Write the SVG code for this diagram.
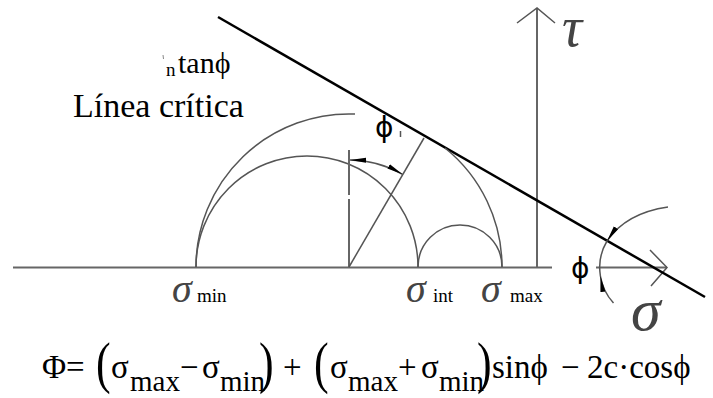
<svg xmlns="http://www.w3.org/2000/svg" width="713" height="398" viewBox="0 0 713 398">
<style>
.g{fill:none;stroke:#555;stroke-width:1.5}
.ax{fill:none;stroke:#666;stroke-width:2}
.crit{fill:none;stroke:#000;stroke-width:2.5}
.ser{font-family:"Liberation Serif","Times New Roman",serif;fill:#000}
.it{font-family:"Liberation Serif","Times New Roman",serif;font-style:italic;fill:#444}
.phi{font-family:"DejaVu Sans","Liberation Sans",sans-serif;fill:#000}
.par{font-family:"Liberation Serif","Times New Roman",serif;fill:#000;font-size:44px}
</style>
<defs>
<marker id="ah" viewBox="0 0 16 6" refX="16" refY="3" markerWidth="16" markerHeight="6" markerUnits="userSpaceOnUse" orient="auto-start-reverse">
<path d="M0,0.5 L16,3 L0,5.5 Z" fill="#000"/>
</marker>
</defs>
<rect width="713" height="398" fill="#fff"/>

<g id="connectors">
<line class="ax" x1="13" y1="267.5" x2="552" y2="267.5"/>
<line class="ax" x1="596" y1="267.5" x2="667" y2="267.5"/>
<polyline class="g" points="650,250 667,267.5 651,286"/>
<line class="ax" x1="537" y1="8" x2="537" y2="267"/>
<polyline class="g" points="517,23 537,8 555,23"/>
<line class="crit" x1="218" y1="17" x2="705" y2="297"/>
</g>

<g id="circles">
<path class="g" d="M196,267 A153,153 0 0 1 355,114.1"/>
<path class="g" d="M445,148 A153,153 0 0 1 502,267"/>
<path class="g" d="M196,267 A111,111 0 0 1 418,267"/>
<path class="g" d="M418,267 A42,42 0 0 1 502,267"/>
</g>

<g id="angle-center">
<line class="ax" x1="349" y1="150" x2="349" y2="195"/>
<line class="ax" x1="349" y1="199" x2="349" y2="267"/>
<line class="g" x1="349" y1="267" x2="424" y2="138"/>
<path class="g" d="M350,160 A107,107 0 0 1 402.5,174.3" marker-start="url(#ah)" marker-end="url(#ah)" stroke="#333"/>
<line class="g" x1="400.5" y1="131" x2="400.5" y2="137" stroke-width="1"/>
<text class="phi" x="375" y="137" font-size="28">ϕ</text>
</g>

<g id="angle-right">
<path class="g" d="M668,207 Q626,213 607,241" marker-end="url(#ah)"/>
<path class="g" d="M613.5,303 A52,52 0 0 1 600.4,276" marker-end="url(#ah)"/>
<path class="g" d="M600.4,276 A52,52 0 0 1 607,241"/>
<text class="phi" x="571" y="278" font-size="28">ϕ</text>
</g>

<g id="labels">
<text class="it" x="562" y="46" font-size="56">τ</text>
<text class="it" x="631" y="330" font-size="60" fill="#555">σ</text>
<text class="it" x="172" y="302" font-size="40">σ</text>
<text class="ser" x="197" y="302" font-size="19">min</text>
<text class="it" x="406" y="302" font-size="40">σ</text>
<text class="ser" x="433" y="302" font-size="19">int</text>
<text class="it" x="481" y="302" font-size="40">σ</text>
<text class="ser" x="510" y="302" font-size="19">max</text>
<line x1="163" y1="55" x2="163.5" y2="59" stroke="#888" stroke-width="1"/>
<text class="ser" x="166" y="76" font-size="19">n</text>
<text class="ser" x="178" y="73" font-size="30">tanϕ</text>
<text class="ser" x="73" y="117" font-size="34">Línea crítica</text>
</g>

<g id="formula">
<text class="ser" x="42" y="378" font-size="33">Φ</text>
<text class="ser" x="66" y="378" font-size="33">=</text>
<text class="par" transform="translate(96,382) scale(1,1.3)">(</text>
<text class="ser" x="111" y="378" font-size="33">σ</text>
<text class="ser" x="130" y="391" font-size="29">max</text>
<text class="ser" x="180" y="378" font-size="33">−</text>
<text class="ser" x="202" y="378" font-size="33">σ</text>
<text class="ser" x="220" y="391" font-size="29">min</text>
<text class="par" transform="translate(259,382) scale(1,1.3)">)</text>
<text class="ser" x="283" y="378" font-size="33">+</text>
<text class="par" transform="translate(314,382) scale(1,1.3)">(</text>
<text class="ser" x="330" y="378" font-size="33">σ</text>
<text class="ser" x="348" y="391" font-size="29">max</text>
<text class="ser" x="398" y="378" font-size="33">+</text>
<text class="ser" x="421" y="378" font-size="33">σ</text>
<text class="ser" x="439" y="391" font-size="29">min</text>
<text class="par" transform="translate(477,382) scale(1,1.3)">)</text>
<text class="ser" x="492" y="378" font-size="33">sinϕ</text>
<text class="ser" x="561" y="378" font-size="33">−</text>
<text class="ser" x="587" y="378" font-size="33">2c·cosϕ</text>
</g>
</svg>
